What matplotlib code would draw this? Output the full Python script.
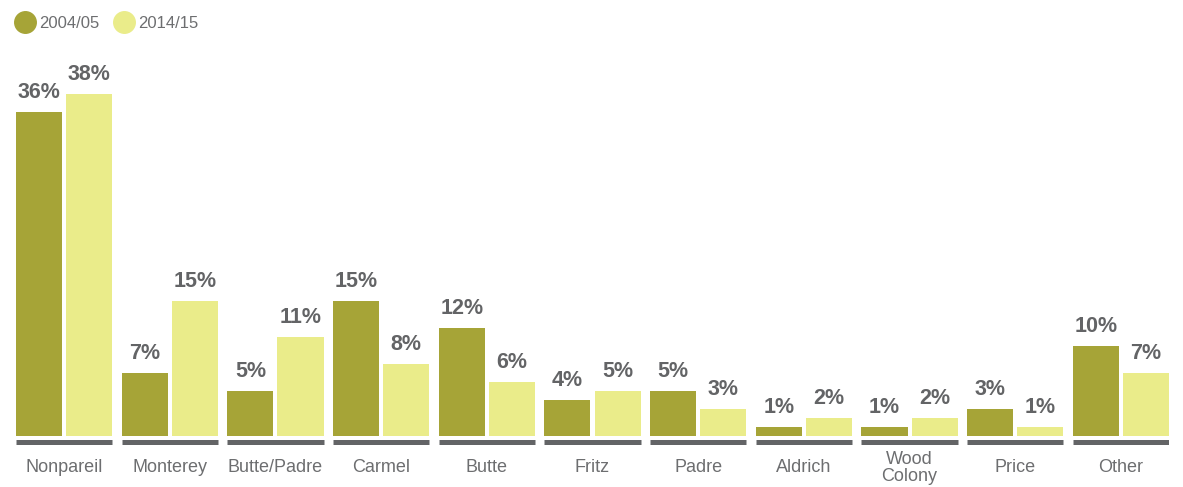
import matplotlib.pyplot as plt
from matplotlib.lines import Line2D

# Data
categories = ['Nonpareil', 'Monterey', 'Butte/Padre', 'Carmel', 'Butte', 'Fritz',
              'Padre', 'Aldrich', 'Wood\nColony', 'Price', 'Other']
share_0405 = [36, 7, 5, 15, 12, 4, 5, 1, 1, 3, 10]
share_1415 = [38, 15, 11, 8, 6, 5, 3, 2, 2, 1, 7]
series_names = ['2004/05', '2014/15']

dark = '#a6a437'
light = '#eaec8a'
gray_line = '#636466'
gray_text = '#6d6e70'

W, H = 1183, 487
fig = plt.figure(figsize=(W / 100, H / 100), dpi=100)

# axes placed in pixel terms: x from 16 to 1169, baseline at y=436
px_per_unit = 9.0
ymin, ymax = -2, 40
ax_bottom = H - 436 - (-ymin) * px_per_unit
ax_height = (ymax - ymin) * px_per_unit
ax = fig.add_axes([16 / W, ax_bottom / H, 1153 / W, ax_height / H])
ax.set_xlim(-0.455, len(categories) - 1 + 0.455)
ax.set_ylim(ymin, ymax)
ax.axis('off')

bw = 0.436
off = 0.237
x = list(range(len(categories)))

b1 = ax.bar([i - off for i in x], share_0405, width=bw, color=dark)
b2 = ax.bar([i + off for i in x], share_1415, width=bw, color=light)

label_font = dict(family=['Liberation Sans Narrow', 'Liberation Sans', 'DejaVu Sans'],
                  fontsize=15.5, fontweight='bold', color=gray_line)
for bars, vals in ((b1, share_0405), (b2, share_1415)):
    for rect, v in zip(bars, vals):
        ax.annotate(f'{v}%', (rect.get_x() + rect.get_width() / 2, v),
                    xytext=(0, 6.5), textcoords='offset points',
                    ha='center', va='bottom', **label_font)

# gray baseline segments under each group
for i in x:
    ax.plot([i - 0.455, i + 0.455], [-0.7, -0.7], color=gray_line,
            linewidth=3.6, solid_capstyle='butt')

# category labels
for i, c in zip(x, categories):
    fig.text((16 + (i + 0.455) * (1153 / (len(categories) - 1 + 0.91))) / W,
             (H - 468) / H, c, ha='center', va='center', fontsize=13,
             family='Liberation Sans', color=gray_text, linespacing=1.05)

# legend
handles = [Line2D([], [], marker='o', linestyle='', markersize=15.5,
                  markerfacecolor=col, markeredgecolor=col)
           for col in (dark, light)]
leg = fig.legend(handles, series_names, loc='upper left',
                 bbox_to_anchor=(-2 / W, 1 - 1 / H), ncol=2, frameon=False,
                 handletextpad=0.15, columnspacing=0.8, handlelength=1.4,
                 prop={'family': 'Liberation Sans', 'size': 12})
for t in leg.get_texts():
    t.set_color(gray_text)

fig.savefig('out.png', dpi=100)
